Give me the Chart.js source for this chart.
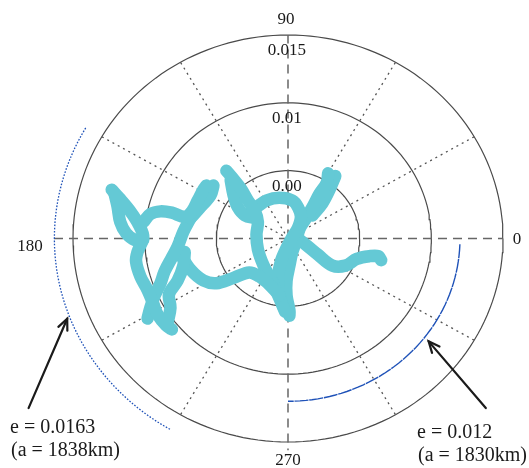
<!DOCTYPE html>
<html>
<head>
<meta charset="utf-8">
<script src="https://cdn.jsdelivr.net/npm/chart.js@4.4.1/dist/chart.umd.min.js"></script>
<style>
  html, body { margin: 0; padding: 0; background: #fff; }
  canvas { display: block; }
</style>
</head>
<body>
<canvas id="polar" width="529" height="468"></canvas>
<script>
// Eccentricity vector history, e·cos(ω) and e·sin(ω); null separates continuous runs
const eCos = [
  -0.0123, -0.0117, -0.0110, -0.0104, -0.0101, -0.0105, -0.0106, -0.0103, -0.0098, -0.0094, -0.0091, -0.0085, -0.0081, null,
  -0.0121, -0.0119, -0.0117, -0.0113, -0.0107, -0.0101, null,
  -0.0101, -0.0096, -0.0089, -0.0081, -0.0072, -0.0067, -0.0063, -0.0059, -0.0057, null,
  -0.0068, -0.0062, -0.0054, -0.0052, null,
  -0.0068, -0.0073, -0.0077, -0.0081, -0.0086, -0.0089, -0.0093, -0.0096, -0.0098, null,
  -0.0072, -0.0073, -0.0077, -0.0083, -0.0082, -0.0084, null,
  -0.0075, -0.0068, -0.0059, -0.0050, -0.0038, -0.0027, -0.0020, -0.0013, -0.0006, null,
  -0.0043, -0.0039, -0.0033, -0.0028, -0.0023, -0.0021, -0.0022, -0.0021, -0.0017, -0.0011, -0.0006, -0.0002, null,
  -0.0040, -0.0038, -0.0035, -0.0030, -0.0023, null,
  -0.0022, -0.0015, -0.0006, 0.0003, 0.0007, 0.0009, 0.0007, 0.0003, -0.0001, -0.0005, -0.0007, -0.0006, -0.0003, null,
  0.0028, 0.0027, 0.0022, 0.0017, 0.0012, 0.0008, 0.0006, 0.0003, 0.0001, -0.0001, -0.0001, 0.0001, 0.0001, null,
  0.0033, 0.0029, 0.0024, 0.0017, null,
  0.0007, 0.0013, 0.0021, 0.0031, 0.0040, 0.0048, 0.0057, 0.0063, 0.0065
];
const eSin = [
  0.0036, 0.0029, 0.0020, 0.0010, 0.0001, -0.0010, -0.0017, -0.0028, -0.0038, -0.0048, -0.0056, -0.0064, -0.0067, null,
  0.0033, 0.0024, 0.0012, 0.0004, -0.0001, -0.0001, null,
  0.0012, 0.0018, 0.0020, 0.0019, 0.0016, 0.0020, 0.0028, 0.0036, 0.0039, null,
  0.0015, 0.0022, 0.0032, 0.0039, null,
  0.0015, 0.0005, -0.0006, -0.0014, -0.0024, -0.0033, -0.0042, -0.0051, -0.0059, null,
  -0.0010, -0.0020, -0.0031, -0.0041, -0.0051, -0.0062, null,
  -0.0012, -0.0023, -0.0031, -0.0033, -0.0029, -0.0025, -0.0028, -0.0034, -0.0042, null,
  0.0050, 0.0045, 0.0037, 0.0028, 0.0020, 0.0012, 0.0003, -0.0008, -0.0020, -0.0032, -0.0044, -0.0054, null,
  0.0043, 0.0032, 0.0023, 0.0017, 0.0015, null,
  0.0023, 0.0028, 0.0030, 0.0028, 0.0023, 0.0016, 0.0008, 0.0001, -0.0007, -0.0017, -0.0029, -0.0041, -0.0051, null,
  0.0048, 0.0041, 0.0033, 0.0023, 0.0014, 0.0007, -0.0001, -0.0010, -0.0020, -0.0031, -0.0042, -0.0053, -0.0057, null,
  0.0046, 0.0036, 0.0026, 0.0017, null,
  0.0000, -0.0005, -0.0012, -0.0020, -0.0020, -0.0015, -0.0013, -0.0013, -0.0016
];

// Eccentricity rings and their labels
const ringRadii = [0.005, 0.01, 0.015];
const ringLabels = ['0.00', '0.01', '0.015'];

// Argument of periapsis (degrees): dashed axes and dotted spokes
const axisAngles = [0, 90, 180, 270];
const axisLabels = ['0', '90', '180', '270'];
const spokeAngles = [30, 60, 120, 150, 210, 240, 300, 330];

// Reference orbits: eccentricity and angular span (degrees)
const refE = [0.0163, 0.012];
const refFrom = [150, -2];
const refTo = [240, -90];
const refNotes = [['e = 0.0163', '(a = 1838km)'], ['e = 0.012', '(a = 1830km)']];

const RAD = Math.PI / 180;
const polarPt = (r, deg) => ({ x: r * Math.cos(deg * RAD), y: r * Math.sin(deg * RAD) });
const arcPts = (r, a0, a1) => {
  const n = Math.max(2, Math.ceil(Math.abs(a1 - a0) / 2));
  const pts = [];
  for (let i = 0; i <= n; i++) pts.push(polarPt(r, a0 + (a1 - a0) * i / n));
  return pts;
};

const datasets = [];

// trajectory runs (drawn on top)
let run = [];
const flush = () => {
  if (run.length) {
    datasets.push({
      data: run, showLine: true, pointRadius: 0, borderWidth: 12.5,
      borderColor: '#64c9d5', borderCapStyle: 'round', borderJoinStyle: 'round',
      tension: 0.35, order: 0
    });
  }
  run = [];
};
eCos.forEach((v, i) => {
  if (v === null || eSin[i] === null) flush();
  else run.push({ x: v, y: eSin[i] });
});
flush();

// reference orbit arcs
refE.forEach((e, i) => {
  datasets.push({
    data: arcPts(e, refFrom[i], refTo[i]), showLine: true, pointRadius: 0,
    borderWidth: i === 0 ? 1.3 : 1.4, borderColor: '#1f52b8',
    borderDash: i === 0 ? [1.6, 1.6] : [14, 0.8], order: 5
  });
});

// rings
const outer = ringRadii[ringRadii.length - 1];
ringRadii.forEach(r => {
  datasets.push({
    data: arcPts(r, 0, 360), showLine: true, pointRadius: 0,
    borderWidth: 1.2, borderColor: '#4a4a4a', order: 10
  });
});

// dotted spokes
spokeAngles.forEach(a => {
  datasets.push({
    data: [{ x: 0, y: 0 }, polarPt(outer, a)], showLine: true, pointRadius: 0,
    borderWidth: 1.3, borderColor: '#555', borderDash: [2, 4], order: 10
  });
});

// dashed principal axes (left and bottom run a little past the outer ring)
const axisReach = [outer, outer, 0.0164, 0.0156];
axisAngles.forEach((a, i) => {
  datasets.push({
    data: [{ x: 0, y: 0 }, polarPt(axisReach[i], a)], showLine: true, pointRadius: 0,
    borderWidth: 1.5, borderColor: '#666', borderDash: [9, 6], order: 9
  });
});

const SERIF = '"Liberation Serif", "Times New Roman", serif';

const labelsPlugin = {
  id: 'polarLabels',
  afterDraw(chart) {
    const { ctx, scales: { x, y } } = chart;
    const cx = x.getPixelForValue(0), cy = y.getPixelForValue(0);
    ctx.save();
    ctx.fillStyle = '#1a1a1a';
    ctx.font = '17px ' + SERIF;
    ctx.textAlign = 'center';
    ctx.textBaseline = 'middle';

    // ring labels just inside the top of each ring
    ringRadii.forEach((r, i) => {
      ctx.fillText(ringLabels[i], cx - 1, y.getPixelForValue(r) + 16);
    });

    // angle labels around the outer ring
    ctx.fillText(axisLabels[0], x.getPixelForValue(outer) + 14, cy + 1);
    ctx.fillText(axisLabels[1], cx - 2, y.getPixelForValue(outer) - 15);
    ctx.fillText(axisLabels[2], x.getPixelForValue(-outer) - 43, cy + 8);
    ctx.fillText(axisLabels[3], cx, y.getPixelForValue(-outer) + 19);

    // arrows pointing at the reference arcs, with notes
    const arrows = [
      { head: polarPt(refE[0] + 0.0002, 201), tail: { x: -0.0181, y: -0.0125 }, text: [10, 428] },
      { head: polarPt(refE[1] + 0.0004, -37.7), tail: { x: 0.0138, y: -0.0125 }, text: [417, 433] }
    ];
    arrows.forEach((a, i) => {
      const hx = x.getPixelForValue(a.head.x), hy = y.getPixelForValue(a.head.y);
      const tx = x.getPixelForValue(a.tail.x), ty = y.getPixelForValue(a.tail.y);
      const ang = Math.atan2(hy - ty, hx - tx);
      ctx.strokeStyle = '#1a1a1a';
      ctx.lineWidth = 2.2;
      ctx.lineCap = 'round';
      ctx.lineJoin = 'miter';
      ctx.beginPath();
      ctx.moveTo(tx, ty);
      ctx.lineTo(hx, hy);
      ctx.stroke();
      const L = 12, w = 0.42;
      ctx.beginPath();
      ctx.moveTo(hx - L * Math.cos(ang - w), hy - L * Math.sin(ang - w));
      ctx.lineTo(hx, hy);
      ctx.lineTo(hx - L * Math.cos(ang + w), hy - L * Math.sin(ang + w));
      ctx.stroke();

      ctx.font = '20px ' + SERIF;
      ctx.textAlign = 'left';
      ctx.fillText(refNotes[i][0], a.text[0], a.text[1]);
      ctx.fillText(refNotes[i][1], a.text[0] + 1, a.text[1] + 23);
    });
    ctx.restore();
  }
};

new Chart(document.getElementById('polar'), {
  type: 'scatter',
  data: { datasets },
  options: {
    responsive: false,
    animation: false,
    devicePixelRatio: 1,
    layout: { padding: 0 },
    plugins: { legend: { display: false }, tooltip: { enabled: false } },
    scales: {
      x: { type: 'linear', display: false, min: -0.020093, max: 0.016814 },
      y: { type: 'linear', display: false, min: -0.016917, max: 0.017580 }
    }
  },
  plugins: [labelsPlugin]
});
</script>
</body>
</html>
